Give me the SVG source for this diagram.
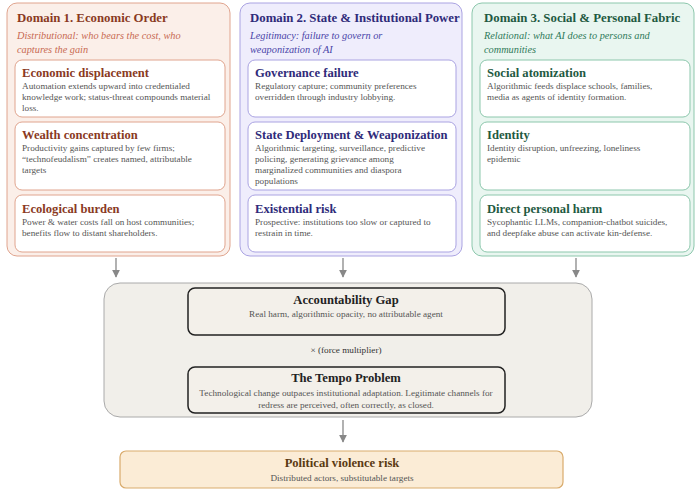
<svg xmlns="http://www.w3.org/2000/svg" width="700" height="491" viewBox="0 0 700 491">
<defs>
<marker id="ah" viewBox="0 0 10 10" refX="9" refY="5" markerWidth="6" markerHeight="6" orient="auto"><path d="M0,0L10,5L0,10z" fill="#888"/></marker>
<style>
text{font-family:"Liberation Serif",serif}
.dt{font-size:12.8px;font-weight:bold}
.ds{font-size:10.3px;font-style:italic}
.ct{font-size:12.6px;font-weight:bold}
.cb{font-size:9.2px;fill:#555}
.card{fill:#fff;stroke-width:1}
.d1{fill:#fbefe9;stroke:#e0a48e}
.d2{fill:#efedfc;stroke:#aaa3e2}
.d3{fill:#e9f6f0;stroke:#8cc7ac}
.c1{stroke:#e0a48e}.c2{stroke:#aaa3e2}.c3{stroke:#8cc7ac}
.t1{fill:#8a3a1f}.t2{fill:#2f2b7a}.t3{fill:#1f5a42}
.s1{fill:#c86a52}.s2{fill:#4a45a8}.s3{fill:#2f7a5a}
.conn{stroke:#888;stroke-width:1.3;fill:none;marker-end:url(#ah)}
.blk{fill:#f3f0ea;stroke:#222;stroke-width:1.5}
</style>
</defs>
<g id="domain1">
<rect x="7" y="3" width="223" height="253" rx="10" class="d1"/>
<text x="17" y="22" class="dt t1">Domain 1. Economic Order</text>
<text x="17" y="39" class="ds s1">Distributional: who bears the cost, who</text>
<text x="17" y="53" class="ds s1">captures the gain</text>
<g id="econ-disp"><rect x="15" y="60" width="210" height="57" rx="7" class="card c1"/>
<text x="22" y="77" class="ct t1">Economic displacement</text>
<text x="22" y="89" class="cb">Automation extends upward into credentialed</text>
<text x="22" y="100" class="cb">knowledge work; status-threat compounds material</text>
<text x="22" y="111" class="cb">loss.</text></g>
<g id="wealth"><rect x="15" y="122" width="210" height="68" rx="7" class="card c1"/>
<text x="22" y="139" class="ct t1">Wealth concentration</text>
<text x="22" y="151" class="cb">Productivity gains captured by few firms;</text>
<text x="22" y="162" class="cb">“technofeudalism” creates named, attributable</text>
<text x="22" y="173" class="cb">targets</text></g>
<g id="eco"><rect x="15" y="195" width="210" height="57" rx="7" class="card c1"/>
<text x="22" y="213" class="ct t1">Ecological burden</text>
<text x="22" y="225" class="cb">Power &amp; water costs fall on host communities;</text>
<text x="22" y="236" class="cb">benefits flow to distant shareholders.</text></g>
</g>
<g id="domain2">
<rect x="240" y="3" width="222" height="253" rx="10" class="d2"/>
<text x="250" y="22" class="dt t2">Domain 2. State &amp; Institutional Power</text>
<text x="250" y="39" class="ds s2">Legitimacy: failure to govern or</text>
<text x="250" y="53" class="ds s2">weaponization of AI</text>
<g id="gov"><rect x="248" y="60" width="208" height="57" rx="7" class="card c2"/>
<text x="255" y="77" class="ct t2">Governance failure</text>
<text x="255" y="89" class="cb">Regulatory capture; community preferences</text>
<text x="255" y="100" class="cb">overridden through industry lobbying.</text></g>
<g id="state"><rect x="248" y="122" width="208" height="68" rx="7" class="card c2"/>
<text x="255" y="139" class="ct t2">State Deployment &amp; Weaponization</text>
<text x="255" y="151" class="cb">Algorithmic targeting, surveillance, predictive</text>
<text x="255" y="162" class="cb">policing, generating grievance among</text>
<text x="255" y="173" class="cb">marginalized communities and diaspora</text>
<text x="255" y="184" class="cb">populations</text></g>
<g id="exist"><rect x="248" y="195" width="208" height="57" rx="7" class="card c2"/>
<text x="255" y="213" class="ct t2">Existential risk</text>
<text x="255" y="225" class="cb">Prospective: institutions too slow or captured to</text>
<text x="255" y="236" class="cb">restrain in time.</text></g>
</g>
<g id="domain3">
<rect x="472" y="3" width="222" height="253" rx="10" class="d3"/>
<text x="484" y="22" class="dt t3">Domain 3. Social &amp; Personal Fabric</text>
<text x="484" y="39" class="ds s3">Relational: what AI does to persons and</text>
<text x="484" y="53" class="ds s3">communities</text>
<g id="atom"><rect x="480" y="60" width="210" height="57" rx="7" class="card c3"/>
<text x="487" y="77" class="ct t3">Social atomization</text>
<text x="487" y="89" class="cb">Algorithmic feeds displace schools, families,</text>
<text x="487" y="100" class="cb">media as agents of identity formation.</text></g>
<g id="ident"><rect x="480" y="122" width="210" height="68" rx="7" class="card c3"/>
<text x="487" y="139" class="ct t3">Identity</text>
<text x="487" y="151" class="cb">Identity disruption, unfreezing, loneliness</text>
<text x="487" y="162" class="cb">epidemic</text></g>
<g id="harm"><rect x="480" y="195" width="210" height="57" rx="7" class="card c3"/>
<text x="487" y="213" class="ct t3">Direct personal harm</text>
<text x="487" y="225" class="cb">Sycophantic LLMs, companion-chatbot suicides,</text>
<text x="487" y="236" class="cb">and deepfake abuse can activate kin-defense.</text></g>
</g>
<g id="core">
<rect x="104" y="283" width="488" height="134" rx="16" fill="#f1efea" stroke="#aaa" stroke-width="1"/>
<g id="acc"><rect x="188" y="288" width="317" height="47" rx="7" class="blk"/>
<text x="346" y="304" text-anchor="middle" class="ct" fill="#222">Accountability Gap</text>
<text x="346" y="317" text-anchor="middle" class="cb">Real harm, algorithmic opacity, no attributable agent</text></g>
<text x="346" y="353" text-anchor="middle" font-size="9.2" fill="#333">× (force multiplier)</text>
<g id="tempo"><rect x="188" y="367" width="317" height="46" rx="7" class="blk"/>
<text x="346" y="382" text-anchor="middle" class="ct" fill="#222">The Tempo Problem</text>
<text x="346" y="396" text-anchor="middle" class="cb">Technological change outpaces institutional adaptation. Legitimate channels for</text>
<text x="346" y="408" text-anchor="middle" class="cb">redress are perceived, often correctly, as closed.</text></g>
</g>
<g id="violence">
<rect x="120" y="451" width="443" height="37" rx="6" fill="#fbecd6" stroke="#d9ab6c" stroke-width="1.2"/>
<text x="342" y="467" text-anchor="middle" class="ct" fill="#5a3a12">Political violence risk</text>
<text x="342" y="481" text-anchor="middle" class="cb">Distributed actors, substitutable targets</text>
</g>
<g id="connectors">
<path d="M116 258V277" class="conn"/>
<path d="M343 258V277" class="conn"/>
<path d="M576 258V277" class="conn"/>
<path d="M343 420V442" class="conn"/>
</g>
</svg>
